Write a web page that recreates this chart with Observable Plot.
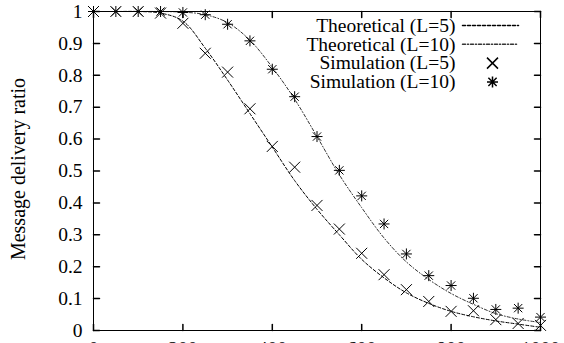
<!DOCTYPE html>
<html><head><meta charset="utf-8">
<script src="https://cdn.jsdelivr.net/npm/d3@7"></script>
<script src="https://cdn.jsdelivr.net/npm/@observablehq/plot@0.6"></script>
<style>body{margin:0;background:#fff;} svg{display:block}</style>
</head><body><div id="chart"></div>
<script>
const xValues  = [0,50,100,150,200,250,300,350,400,450,500,550,600,650,700,750,800,850,900,950,1000];
const theoryL5 = [1,1,1,0.995,0.97,0.885,0.785,0.68,0.575,0.47,0.38,0.3,0.223,0.165,0.118,0.085,0.06,0.043,0.03,0.02,0.01];
const theoryL10= [1,1,1,1,0.998,0.99,0.965,0.91,0.825,0.725,0.608,0.488,0.385,0.29,0.215,0.16,0.116,0.082,0.053,0.036,0.025];
const simL5    = [1,1,1,0.995,0.963,0.869,0.81,0.695,0.577,0.512,0.392,0.318,0.242,0.175,0.128,0.091,0.06,0.062,0.034,0.022,0.016];
const simL10   = [1,1,1,1,0.997,0.99,0.96,0.908,0.819,0.733,0.608,0.502,0.422,0.334,0.24,0.172,0.141,0.101,0.066,0.07,0.042];
const xTicks = [0,200,400,600,800,1000];
const xTickLabels = ["0","200","400","600","800","1000"];
const yTicks = [0,0.1,0.2,0.3,0.4,0.5,0.6,0.7,0.8,0.9,1];
const yTickLabels = ["0","0.1","0.2","0.3","0.4","0.5","0.6","0.7","0.8","0.9","1"];
const seriesNames = ["Theoretical (L=5)","Theoretical (L=10)","Simulation (L=5)","Simulation (L=10)"];
const yLabel = "Message delivery ratio";

const rows = xValues.map((x,i)=>({x, t5: theoryL5[i], t10: theoryL10[i], s5: simL5[i], s10: simL10[i]}));

const tickShape = {draw(ctx, l){ ctx.moveTo(0,0); ctx.lineTo(0,-l); }};
const xSym = {draw(ctx, size){ const r = Math.sqrt(size/Math.PI); ctx.moveTo(-r,-r); ctx.lineTo(r,r); ctx.moveTo(-r,r); ctx.lineTo(r,-r); }};
const starSym = {draw(ctx, size){ const r = Math.sqrt(size/Math.PI); const d = r*0.75;
  ctx.moveTo(-r,0); ctx.lineTo(r,0); ctx.moveTo(0,-r); ctx.lineTo(0,r);
  ctx.moveTo(-d,-d); ctx.lineTo(d,d); ctx.moveTo(-d,d); ctx.lineTo(d,-d); }};

const dash5 = "3,2";
const dash10 = "3,2,1,2";
const legendDy = [14, 32.8, 51.6, 70.4];
const fs = 19.5;

const chart = Plot.plot({
  width: 564, height: 343,
  marginLeft: 93, marginRight: 24, marginTop: 11, marginBottom: 13,
  style: {fontFamily: "'Liberation Serif', 'Times New Roman', serif", fontSize: fs + "px", color: "black", background: "white"},
  x: {domain: [0,1000]},
  y: {domain: [0,1]},
  marks: [
    Plot.vector(xTicks, {x: d=>d, frameAnchor: "bottom", length: 6, anchor: "start", shape: tickShape, stroke: "black", rotate: 0}),
    Plot.vector(xTicks, {x: d=>d, frameAnchor: "top", length: 6, anchor: "start", shape: tickShape, stroke: "black", rotate: 180}),
    Plot.vector(yTicks, {y: d=>d, frameAnchor: "left", length: 6, anchor: "start", shape: tickShape, stroke: "black", rotate: 90}),
    Plot.vector(yTicks, {y: d=>d, frameAnchor: "right", length: 6, anchor: "start", shape: tickShape, stroke: "black", rotate: -90}),
    Plot.axisX({ticks: xTicks, tickSize: 0, tickPadding: 11, tickFormat: d=>xTickLabels[xTicks.indexOf(d)], label: null, fontSize: fs}),
    Plot.axisY({ticks: yTicks, tickSize: 0, tickPadding: 11, tickFormat: d=>yTickLabels[yTicks.findIndex(t=>Math.abs(t-d)<1e-9)], label: null, fontSize: fs}),
    Plot.text([yLabel], {frameAnchor: "left", dx: -75, dy: -2, rotate: -90, text: d=>d, textAnchor: "middle", lineAnchor: "middle", fontSize: 20}),
    Plot.line(rows, {x: "x", y: "t5", curve: "catmull-rom", stroke: "black", strokeWidth: 1, strokeDasharray: dash5}),
    Plot.line(rows, {x: "x", y: "t10", curve: "catmull-rom", stroke: "#333", strokeWidth: 1, strokeDasharray: dash10}),
    Plot.dot(rows, {x: "x", y: "s5", symbol: xSym, r: 5.5, stroke: "black", strokeWidth: 1}),
    Plot.dot(rows, {x: "x", y: "s10", symbol: starSym, r: 5.5, stroke: "black", strokeWidth: 1}),
    Plot.frame({stroke: "black"}),
    ...seriesNames.map((name,i)=>Plot.text([name], {frameAnchor: "top-right", dx: -85, dy: legendDy[i], text: d=>d, textAnchor: "end", lineAnchor: "middle", fontSize: fs})),
    Plot.vector([seriesNames[0]], {frameAnchor: "top-right", dx: -78, dy: legendDy[0], length: 56, anchor: "start", rotate: 90, shape: tickShape, stroke: "black", strokeDasharray: dash5}),
    Plot.vector([seriesNames[1]], {frameAnchor: "top-right", dx: -78, dy: legendDy[1], length: 56, anchor: "start", rotate: 90, shape: tickShape, stroke: "#333", strokeDasharray: dash10}),
    Plot.dot([seriesNames[2]], {frameAnchor: "top-right", dx: -48, dy: legendDy[2], symbol: xSym, r: 5.5, stroke: "black"}),
    Plot.dot([seriesNames[3]], {frameAnchor: "top-right", dx: -48, dy: legendDy[3], symbol: starSym, r: 5.5, stroke: "black"})
  ]
});
document.getElementById("chart").appendChild(chart);
</script>
</body></html>
